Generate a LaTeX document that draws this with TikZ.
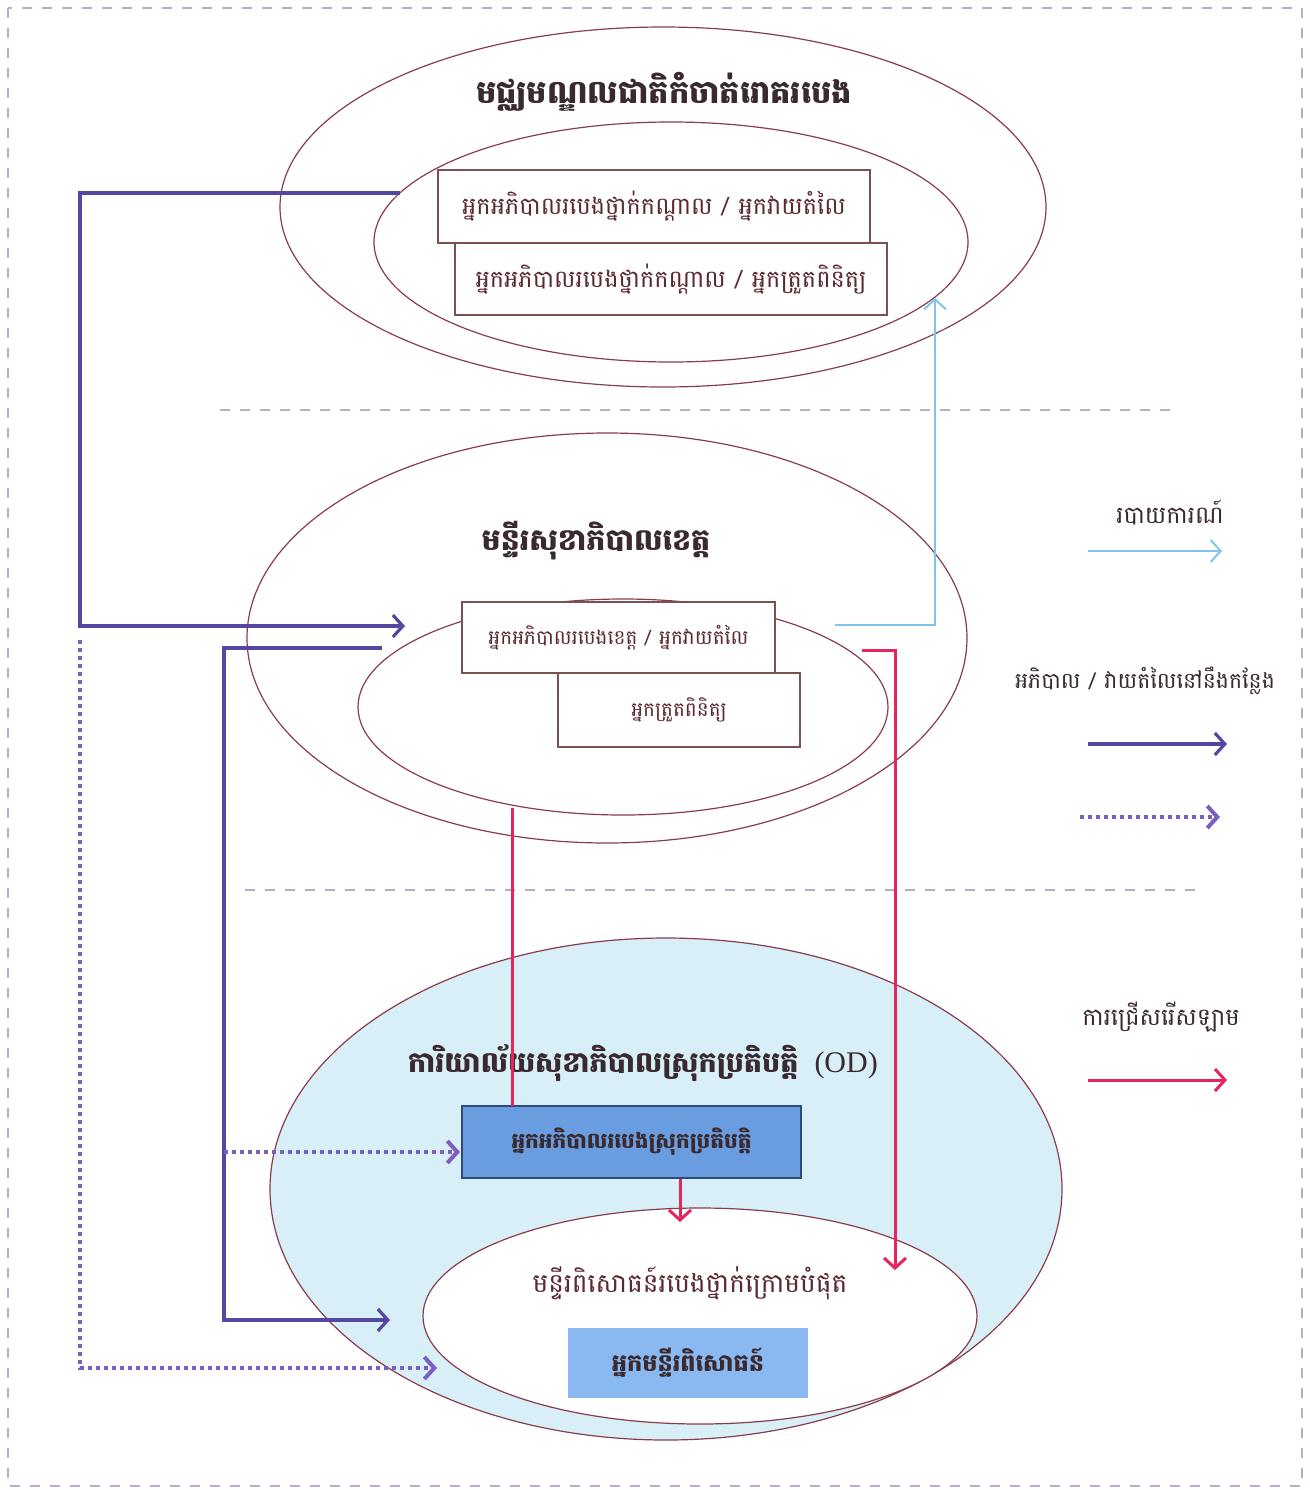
\documentclass[tikz,border=0pt]{standalone}
\usepackage{fontspec}
\usetikzlibrary{shapes.geometric,arrows.meta}
\newfontfamily\kh[Script=Khmer]{Battambang}
\newfontfamily\lat{Liberation Serif}

\definecolor{ringc}{HTML}{8A3B4C}
\definecolor{cardc}{HTML}{7B5050}
\definecolor{txtc}{HTML}{5A2A30}
\definecolor{headc}{HTML}{3A2A30}
\definecolor{purc}{HTML}{5546A0}
\definecolor{dotc}{HTML}{7B5FC0}
\definecolor{repc}{HTML}{80C4EC}
\definecolor{redc}{HTML}{E8245C}
\definecolor{odfill}{HTML}{D8EFF8}
\definecolor{b5fill}{HTML}{6A9DE0}
\definecolor{b5line}{HTML}{2E4A7A}
\definecolor{b6fill}{HTML}{8AB8F0}
\definecolor{framec}{HTML}{C0A8C8}

\tikzset{
  ring/.style={ellipse, draw=ringc, line width=0.6pt, inner sep=0pt},
  card/.style={rectangle, draw=cardc, fill=white, line width=0.8pt, inner sep=0pt,
    font=\kh\fontsize{12}{14}\selectfont, text=txtc},
  smallcard/.style={card, font=\kh\fontsize{10}{12}\selectfont},
  head/.style={font=\kh\bfseries\fontsize{15}{18}\selectfont, text=headc},
  plain/.style={font=\kh\fontsize{12}{14}\selectfont, text=txtc},
  tip/.style={-{Straight Barb[length=5pt,width=11pt]}},
  supv/.style={draw=purc, line width=1.6pt},
  dotl/.style={draw=dotc, line width=2pt, dash pattern=on 2pt off 2pt},
  repl/.style={draw=repc, line width=1pt},
  redl/.style={draw=redc, line width=1.5pt},
  sep/.style={draw=framec, line width=0.6pt, dash pattern=on 5pt off 5pt},
}

\begin{document}
\begin{tikzpicture}[x=0.5pt, y=-0.5pt]
\useasboundingbox (0,0) rectangle (1310,1490);

% page frame and level separators
\draw[sep] (8,8) rectangle (1302,1486);
\draw[sep] (220,410) -- (1175,410);
\draw[sep] (245,890) -- (1200,890);

% national level
\node[ring, minimum width=383pt, minimum height=180pt] (natO) at (663,207) {};
\node[ring, minimum width=297pt, minimum height=120pt] (natI) at (671,242) {};
\node[head, font=\kh\bfseries\fontsize{16}{19}\selectfont] (natT) at (664,92) {មជ្ឈមណ្ឌលជាតិកំចាត់រោគរបេង};
\node[card, minimum width=216pt, minimum height=36.5pt] (b1) at (654,206.5)
  {អ្នកអភិបាលរបេងថ្នាក់កណ្តាល / អ្នកវាយតំលៃ};
\node[card, minimum width=216pt, minimum height=36pt] (b2) at (671,279)
  {អ្នកអភិបាលរបេងថ្នាក់កណ្តាល / អ្នកត្រួតពិនិត្យ};

% provincial level
\node[ring, minimum width=360pt, minimum height=205pt] (proO) at (607,638) {};
\node[ring, minimum width=265pt, minimum height=108pt] (proI) at (623,707) {};
\node[head] (proT) at (596,541) {មន្ទីរសុខាភិបាលខេត្ត};
\node[smallcard, minimum width=156.5pt, minimum height=35.5pt] (b3) at (618.5,637.5)
  {អ្នកអភិបាលរបេងខេត្ត / អ្នកវាយតំលៃ};
\node[smallcard, minimum width=121pt, minimum height=37pt] (b4) at (679,710)
  {អ្នកត្រួតពិនិត្យ};

% operational district level
\node[ring, fill=odfill, minimum width=396pt, minimum height=251pt] (odO) at (666,1189) {};
\node[ring, fill=white, minimum width=277pt, minimum height=108pt] (odI) at (700,1316) {};
\node[head, font=\kh\bfseries\fontsize{14.3}{17}\selectfont] (odT) at (643,1063)
  {ការិយាល័យសុខាភិបាលស្រុកប្រតិបត្តិ\hspace{8pt}{\lat\mdseries\fontsize{15}{18}\selectfont (OD)}};
\node[plain, font=\kh\fontsize{13.2}{16}\selectfont] (labT) at (690,1283) {មន្ទីរពិសោធន៍របេងថ្នាក់ក្រោមបំផុត};
\node[card, fill=b5fill, draw=b5line, line width=1pt, minimum width=169.5pt, minimum height=36pt,
  font=\kh\bfseries\fontsize{10.8}{13}\selectfont, text=headc] (b5) at (631.5,1142)
  {អ្នកអភិបាលរបេងស្រុកប្រតិបត្តិ};
\node[card, fill=b6fill, draw=none, minimum width=120pt, minimum height=35pt,
  font=\kh\bfseries\fontsize{12}{14}\selectfont, text=headc] (b6) at (688,1363)
  {អ្នកមន្ទីរពិសោធន៍};

% connector end points
\coordinate (a0) at (400,193);
\coordinate (a1) at (80,193);
\coordinate (a2) at (80,626);
\coordinate (a3) at (405,626);
\coordinate (c0) at (382,648);
\coordinate (c1) at (224,648);
\coordinate (c2) at (224,1320);
\coordinate (c3) at (390,1320);
\coordinate (d0) at (80,640);
\coordinate (d1) at (80,1368);
\coordinate (d2) at (437,1368);
\coordinate (e0) at (224,1152);
\coordinate (e1) at (460,1152);
\coordinate (r0) at (835,625);
\coordinate (r1) at (935,625);
\coordinate (r2) at (935,298);
\coordinate (s0) at (512,808);
\coordinate (s1) at (512,1106);
\coordinate (g1) at (680,1222);
\coordinate (h0) at (862,650);
\coordinate (h1) at (895,650);
\coordinate (h2) at (895,1270);

% supervision from the national level to the province
\draw[supv, tip] (a0) -- (a1) -- (a2) -- (a3);
% supervision from the province to the laboratory
\draw[supv, tip] (c0) -- (c1) -- (c2) -- (c3);
% dotted supervision lines
\draw[dotl, tip] (d0) -- (d1) -- (d2);
\draw[dotl, tip] (e0) -- (e1);
% reports
\draw[repl, tip] (r0) -- (r1) -- (r2);
% slide selection
\draw[redl] (s0) -- (s1);
\draw[redl, tip] (b5.south -| g1) -- (g1);
\draw[redl, tip] (h0) -- (h1) -- (h2);

% legend
\node[plain, text=headc] (lg1) at (1170,513) {របាយការណ៍};
\coordinate (lg1a) at (1088,551);
\coordinate (lg1b) at (1222,551);
\draw[repl, tip] (lg1a) -- (lg1b);
\node[plain, text=headc, font=\kh\fontsize{11}{13}\selectfont] (lg2) at (1145,681) {អភិបាល / វាយតំលៃនៅនឹងកន្លែង};
\coordinate (lg2a) at (1088,744);
\coordinate (lg2b) at (1227,744);
\draw[supv, tip] (lg2a) -- (lg2b);
\coordinate (lg3a) at (1080,817);
\coordinate (lg3b) at (1220,817);
\draw[dotl, tip] (lg3a) -- (lg3b);
\node[plain, text=headc] (lg4) at (1161,1017) {ការជ្រើសរើសឡាម};
\coordinate (lg4a) at (1088,1080);
\coordinate (lg4b) at (1227,1080);
\draw[redl, tip] (lg4a) -- (lg4b);
\end{tikzpicture}
\end{document}
